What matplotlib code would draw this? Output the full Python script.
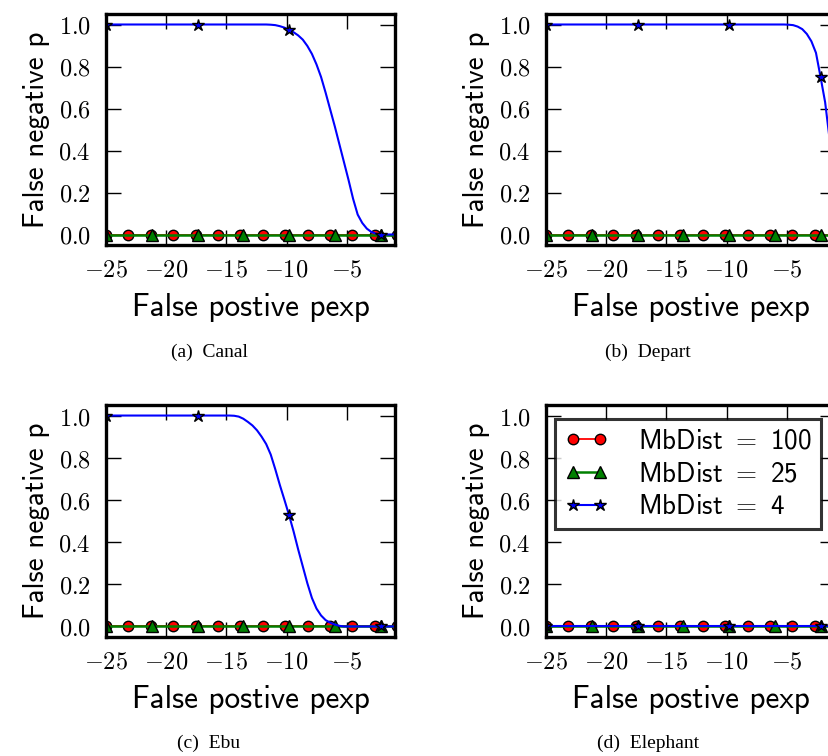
import numpy as np
import matplotlib
matplotlib.use('Agg')
import matplotlib.pyplot as plt
from matplotlib.ticker import FuncFormatter

plt.rcParams['mathtext.fontset'] = 'cm'

# sample grids (red series is sampled slightly finer than green/blue)
x_red = np.linspace(-25, -0.82, 66)
x_gb = np.linspace(-25, -0.68, 65)

datasets = ['Canal', 'Depart', 'Ebu', 'Elephant']
letters = ['a', 'b', 'c', 'd']
labels = ['MbDist $=$ 100', 'MbDist $=$ 25', 'MbDist $=$ 4']

# MbDist = 100 and MbDist = 25 stay at zero everywhere
red_vals = {d: [0.0] * 66 for d in datasets}
green_vals = {d: [0.0] * 65 for d in datasets}

# MbDist = 4
blue_canal = [1.0] * 36 + [0.999, 0.997, 0.992, 0.985, 0.975, 0.963, 0.948, 0.928,
                           0.898, 0.86, 0.81, 0.75, 0.675, 0.595, 0.515, 0.43,
                           0.345, 0.26, 0.17, 0.095, 0.055, 0.028, 0.012, 0.004] + [0.0] * 5
blue_depart = [1.0] * 53 + [0.999, 0.997, 0.99, 0.978, 0.955, 0.92, 0.865, 0.75,
                            0.63, 0.45, 0.27, 0.12]
blue_ebu = [1.0] * 28 + [0.999, 0.995, 0.985, 0.97, 0.953, 0.93, 0.9, 0.865,
                         0.815, 0.745, 0.67, 0.6, 0.528, 0.45, 0.365, 0.285,
                         0.205, 0.135, 0.085, 0.052, 0.03, 0.018, 0.009, 0.003] + [0.0] * 13
blue_elephant = [0.0] * 65
blue_vals = {'Canal': blue_canal, 'Depart': blue_depart, 'Ebu': blue_ebu, 'Elephant': blue_elephant}

xticks = [-25, -20, -15, -10, -5]
yticks = [0.0, 0.2, 0.4, 0.6, 0.8, 1.0]

W, H = 829, 756
fig = plt.figure(figsize=(W / 100, H / 100), dpi=100)

# axes boxes in pixels: left, top, width, height
boxes = [(106, 14, 289, 231), (546, 14, 289, 231),
         (106, 405, 289, 232), (546, 405, 289, 232)]
caption_pos = [(209, 352), (648, 352), (209, 743), (648, 743)]

for i, d in enumerate(datasets):
    l, t, w, h = boxes[i]
    ax = fig.add_axes([l / W, 1 - (t + h) / H, w / W, h / H])
    ax.plot(x_red, red_vals[d], color='r', lw=1.3, marker='o', markevery=5,
            ms=7.5, mec='k', mew=1, label=labels[0])
    ax.plot(x_gb, green_vals[d], color='g', lw=1.8, marker='^', markevery=10,
            ms=8, mec='k', mew=1, label=labels[1])
    ax.plot(x_gb, blue_vals[d], color='b', lw=1.5, marker='*', markevery=20,
            ms=9, mec='k', mew=1, label=labels[2])
    ax.set_xlim(-25, -1)
    ax.set_ylim(-0.05, 1.05)
    ax.set_xticks(xticks)
    ax.set_yticks(yticks)
    ax.xaxis.set_major_formatter(FuncFormatter(lambda v, p: '$%d$' % v))
    ax.yaxis.set_major_formatter(FuncFormatter(lambda v, p: '$%.1f$' % v))
    ax.tick_params(axis='x', pad=9)
    ax.tick_params(axis='y', pad=11)
    ax.tick_params(direction='in', length=11, width=1, top=True, right=True,
                   labelsize=17.5)
    for s in ax.spines.values():
        s.set_linewidth(2.4)
    ax.set_xlabel('False postive pexp', family='cmss10', fontsize=22.5, labelpad=8)
    ax.set_ylabel('False negative p', family='cmss10', fontsize=21, labelpad=6)
    if d == 'Elephant':
        leg = ax.legend(loc='upper right', numpoints=2, handlelength=1.6,
                        handletextpad=1.1, fancybox=False, borderaxespad=0.5,
                        labelspacing=0.3, borderpad=0.35,
                        prop={'family': 'cmss10', 'size': 19.5})
        leg.get_frame().set_edgecolor('k')
        leg.get_frame().set_linewidth(2.2)
    cx, cy = caption_pos[i]
    fig.text(cx / W, 1 - cy / H, '(%s)  %s' % (letters[i], d), family='Liberation Serif',
             fontsize=14, ha='center', va='center')

fig.savefig('out.png', dpi=100)
